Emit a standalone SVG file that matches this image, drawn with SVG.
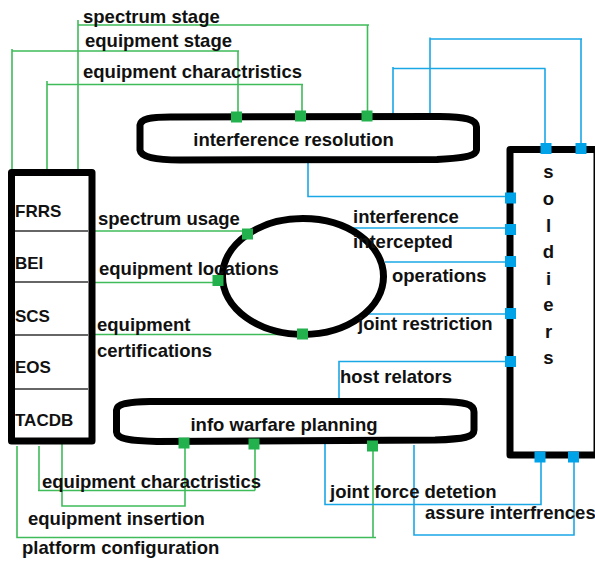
<svg xmlns="http://www.w3.org/2000/svg" width="595" height="561" viewBox="0 0 595 561">
<defs>
<style>
.t{font-family:"Liberation Sans",Arial,sans-serif;font-weight:bold;font-size:18.5px;fill:#111}
.lb{font-size:17px}
.sl{text-anchor:middle}
.shape{fill:#fff;stroke:#000;stroke-width:7;stroke-linejoin:round}
.div{stroke:#333;stroke-width:1.5}
.g{fill:none;stroke:#3fbb5a;stroke-width:1.6}
.b{fill:none;stroke:#1aa7e6;stroke-width:1.6}
.gs{fill:#22b14c}
.bs{fill:#00a2e8}
</style>
</defs>
<rect width="595" height="561" fill="#fff"/>

<g id="connectors">
  <g id="green">
    <path class="g" d="M78,20 V170 M78,25 H369 M367.5,25 V111"/>
    <path class="g" d="M12,49 V170 M12,51 H239 M238,51 V112"/>
    <path class="g" d="M47,81 V170 M47,84.5 H303 M302,84.5 V111"/>
    <path class="g" d="M92,231 H243"/>
    <path class="g" d="M92,282.5 H213"/>
    <path class="g" d="M90,334.5 H298"/>
    <path class="g" d="M39,446 V490.5 M38,490.5 H255 M255,490.5 V449"/>
    <path class="g" d="M62,443 V506 H185 V448"/>
    <path class="g" d="M17,446 V537.5 H376 M373,537.5 V451"/>
  </g>
  <g id="blue">
    <path class="b" d="M308,163 V196.5 H505"/>
    <path class="b" d="M348,228 H505"/>
    <path class="b" d="M385,262 H505"/>
    <path class="b" d="M363,314 H505"/>
    <path class="b" d="M339,398 V361.5 H505"/>
    <path class="b" d="M393,114 V67 M393,68.5 H545.5 M545,68.5 V143"/>
    <path class="b" d="M430,113 V37.5 M430,39 H582 M581,39 V143"/>
    <path class="b" d="M325,440 V504.5 H541 V462"/>
    <path class="b" d="M414,445 V535 H574 V462"/>
  </g>
</g>

<g id="left-box">
  <rect class="shape" x="11.5" y="172.5" width="80.5" height="268.5"/>
  <line class="div" x1="15" y1="231" x2="88" y2="231"/>
  <line class="div" x1="15" y1="282" x2="88" y2="282"/>
  <line class="div" x1="15" y1="335" x2="88" y2="335"/>
  <line class="div" x1="15" y1="389" x2="88" y2="389"/>
  <text class="t lb" x="15" y="217">FRRS</text>
  <text class="t lb" x="15" y="269">BEI</text>
  <text class="t lb" x="15" y="322">SCS</text>
  <text class="t lb" x="15" y="373">EOS</text>
  <text class="t lb" x="15" y="426">TACDB</text>
</g>

<g id="interference-resolution">
  <path class="shape" d="M170,117 L440,116.5 C465,117 476,119 476.5,127 L476.5,150 C476,156 465,158 437,159.5 L180,160 C155,160 141,157 140,150 L140,125 C141,119 150,117 170,117 Z"/>
  <text class="t" x="293.5" y="145.5" text-anchor="middle">interference resolution</text>
</g>

<g id="ellipse-node">
  <ellipse class="shape" cx="303" cy="276.5" rx="80.5" ry="58"/>
</g>

<g id="info-warfare-planning">
  <path class="shape" d="M150,401.5 L440,401.5 C465,402 474,404 474,412 L474,430 C474,437 465,439 435,440 L157,441.5 C130,441 117,439 116.5,432 L116.5,410 C117,404 127,402 150,401.5 Z"/>
  <text class="t" x="284" y="431" text-anchor="middle">info warfare planning</text>
</g>

<g id="soldiers">
  <rect class="shape" x="510" y="149.5" width="87" height="305.5"/>
  <text class="t sl" x="548.5" y="178">s</text>
  <text class="t sl" x="548.5" y="205">o</text>
  <text class="t sl" x="548.5" y="232">l</text>
  <text class="t sl" x="548.5" y="258">d</text>
  <text class="t sl" x="548.5" y="285">i</text>
  <text class="t sl" x="548.5" y="311">e</text>
  <text class="t sl" x="548.5" y="338">r</text>
  <text class="t sl" x="548.5" y="364">s</text>
</g>

<g id="ports">
  <rect class="gs" x="231" y="111.5" width="11" height="11"/>
  <rect class="gs" x="295" y="110.5" width="11" height="11"/>
  <rect class="gs" x="361.5" y="110.5" width="11" height="11"/>
  <rect class="gs" x="242" y="228.5" width="11" height="11"/>
  <rect class="gs" x="212.5" y="275" width="11" height="11"/>
  <rect class="gs" x="297" y="328.5" width="11" height="11"/>
  <rect class="gs" x="178.5" y="437.5" width="11" height="11"/>
  <rect class="gs" x="248.5" y="438.5" width="11" height="11"/>
  <rect class="gs" x="367" y="440.5" width="11" height="11"/>
  <rect class="bs" x="505" y="192.5" width="11" height="11"/>
  <rect class="bs" x="505" y="224" width="11" height="11"/>
  <rect class="bs" x="505" y="256" width="11" height="11"/>
  <rect class="bs" x="505" y="308" width="11" height="11"/>
  <rect class="bs" x="505" y="356" width="11" height="11"/>
  <rect class="bs" x="540.5" y="143" width="11" height="11"/>
  <rect class="bs" x="575.5" y="143" width="11" height="11"/>
  <rect class="bs" x="534.5" y="451.5" width="11" height="11"/>
  <rect class="bs" x="568" y="451.5" width="11" height="11"/>
</g>

<g id="labels">
  <text class="t" x="83" y="22.5">spectrum stage</text>
  <text class="t" x="85" y="46.5">equipment stage</text>
  <text class="t" x="83" y="78">equipment charactristics</text>
  <text class="t" x="98" y="225">spectrum usage</text>
  <text class="t" x="99" y="275">equipment locations</text>
  <text class="t" x="97" y="330.5">equipment</text>
  <text class="t" x="97" y="357">certifications</text>
  <text class="t" x="353" y="222.5">interference</text>
  <text class="t" x="353" y="248">intercepted</text>
  <text class="t" x="392" y="281.5">operations</text>
  <text class="t" x="358" y="329.5">joint restriction</text>
  <text class="t" x="340" y="383">host relators</text>
  <text class="t" x="42" y="488">equipment charactristics</text>
  <text class="t" x="330" y="498">joint force detetion</text>
  <text class="t" x="425" y="519">assure interfrences</text>
  <text class="t" x="28" y="525">equipment insertion</text>
  <text class="t" x="22" y="554">platform configuration</text>
</g>
</svg>
